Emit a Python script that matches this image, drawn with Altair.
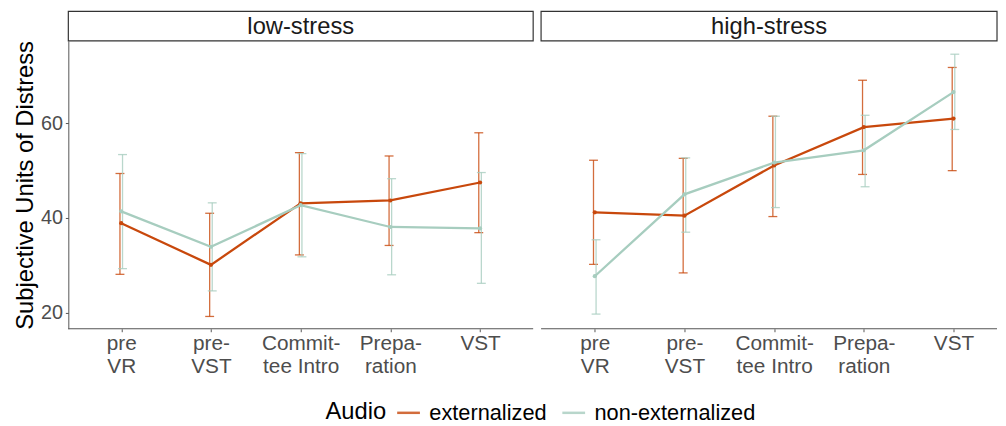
import altair as alt
import pandas as pd

# ---- data ----
phases = ["pre\nVR", "pre-\nVST", "Commit-\ntee Intro", "Prepa-\nration", "VST"]
panels = ["low-stress", "high-stress"]
groups = ["externalized", "non-externalized"]
colors = ["#C8480C", "#A7CDBF"]

low_ext_mean = [38.9, 30.1, 43.1, 43.7, 47.5]
low_ext_lo = [28.1, 19.2, 32.2, 34.2, 36.9]
low_ext_hi = [49.4, 41.0, 53.8, 53.1, 58.0]
low_non_mean = [41.4, 33.9, 42.7, 38.1, 37.8]
low_non_lo = [29.3, 24.6, 31.8, 28.0, 26.2]
low_non_hi = [53.4, 43.2, 53.6, 48.3, 49.6]

high_ext_mean = [41.2, 40.5, 51.1, 59.2, 61.0]
high_ext_lo = [30.2, 28.4, 40.3, 49.2, 50.0]
high_ext_hi = [52.2, 52.6, 61.5, 69.1, 71.8]
high_non_mean = [27.7, 45.0, 51.7, 54.3, 66.6]
high_non_lo = [19.7, 37.0, 42.2, 46.6, 58.7]
high_non_hi = [35.4, 52.7, 61.5, 61.7, 74.6]

series = {
    ("low-stress", "externalized"): (low_ext_mean, low_ext_lo, low_ext_hi),
    ("low-stress", "non-externalized"): (low_non_mean, low_non_lo, low_non_hi),
    ("high-stress", "externalized"): (high_ext_mean, high_ext_lo, high_ext_hi),
    ("high-stress", "non-externalized"): (high_non_mean, high_non_lo, high_non_hi),
}
rows = []
for (stress, audio), (m, lo, hi) in series.items():
    for i, p in enumerate(phases):
        rows.append({"stress": stress, "audio": audio, "phase": p,
                     "mean": m[i], "lo": lo[i], "hi": hi[i]})
df = pd.DataFrame(rows)

H = 291
Y_DOMAIN = [16.6, 77.4]
FONT = "Liberation Sans"
Y_TITLE = "Subjective Units of Distress"

legend = alt.Legend(
    orient="none", legendX=260, legendY=363, direction="horizontal",
    title="Audio", titleOrient="left", titleFontSize=24, titleFontWeight="normal",
    titleColor="black", titlePadding=9, labelFontSize=22, labelColor="black",
    labelOffset=8, columnPadding=10, labelLimit=400, symbolType="stroke",
    symbolSize=529, symbolStrokeWidth=2.5,
)
color = alt.Color("audio:N", scale=alt.Scale(domain=groups, range=colors), legend=legend)


def panel(name, width, x_range, show_y):
    d = df[df.stress == name]
    x = alt.X("phase:N", sort=phases, title=None,
              scale=alt.Scale(type="point", range=x_range, padding=0),
              axis=alt.Axis(labelExpr="split(datum.value, '\\n')", labelAngle=0,
                            labelFontSize=21, labelColor="#4d4d4d", labelLineHeight=23,
                            labelPadding=1, tickSize=3, tickColor="#555", domain=False,
                            grid=False, labelAlign="center"))
    yscale = alt.Scale(domain=Y_DOMAIN, nice=False, zero=False)
    if show_y:
        yaxis = alt.Axis(values=[20, 40, 60], tickSize=3, tickColor="#555",
                         domainColor="#555", labelFontSize=20, labelColor="#4d4d4d",
                         labelPadding=3, grid=False, titleFontSize=24,
                         titleFontWeight="normal", titleColor="black", titlePadding=3,
                         title=Y_TITLE)
    else:
        yaxis = None

    def Y(f):
        return alt.Y(f"{f}:Q", scale=yscale, axis=yaxis)

    one = pd.DataFrame({"t": [name]})
    strip = alt.Chart(one).mark_rect(fill="white", stroke="#333", strokeWidth=1.2).encode(
        x=alt.value(0), x2=alt.value(width), y=alt.value(-30), y2=alt.value(0))
    strip_text = alt.Chart(one).mark_text(fontSize=24, baseline="middle", align="center",
                                          color="#1a1a1a").encode(
        x=alt.value(width / 2), y=alt.value(-14.5), text="t:N")
    bottom = alt.Chart(one).mark_rule(color="#555", strokeWidth=1.1).encode(
        x=alt.value(0), x2=alt.value(width), y=alt.value(H))
    # invisible spacer so that the page keeps room for the legend below the panels
    spacer = alt.Chart(one).mark_rect(opacity=0).encode(
        x=alt.value(0), x2=alt.value(1), y=alt.value(H), y2=alt.value(H + 80))

    base = alt.Chart(d)
    lines = []
    for g in groups:
        b = base.transform_filter(alt.datum.audio == g)
        lines.append(b.mark_line(strokeWidth=2.3).encode(x=x, y=Y("mean"), color=color))
    ebars = []
    for g, off in zip(groups, [-1.3, 1.3]):
        b = base.transform_filter(alt.datum.audio == g)
        ebars.append(b.mark_rule(xOffset=off, strokeWidth=1.3, opacity=0.8).encode(
            x=x, y=Y("lo"), y2="hi:Q", color=color))
        for f in ["lo", "hi"]:
            ebars.append(b.mark_tick(xOffset=off, size=9, thickness=1.3, opacity=0.8).encode(
                x=x, y=Y(f), color=color))
    pts = base.mark_circle(size=18, opacity=1).encode(x=x, y=Y("mean"), color=color)
    return alt.layer(spacer, strip, strip_text, bottom, *ebars, *lines, pts).properties(
        width=width, height=H)


left = panel(panels[0], 470, [53.5, 416.3], True)
right = panel(panels[1], 461, [54.3, 417.0], False)

chart = alt.hconcat(left, right, spacing=6).properties(
    padding={"left": 5, "top": 0, "right": 0, "bottom": 0}).configure(
    font=FONT).configure_view(stroke=None)

chart.save("out.html", embed_options={"renderer": "svg", "actions": False})
